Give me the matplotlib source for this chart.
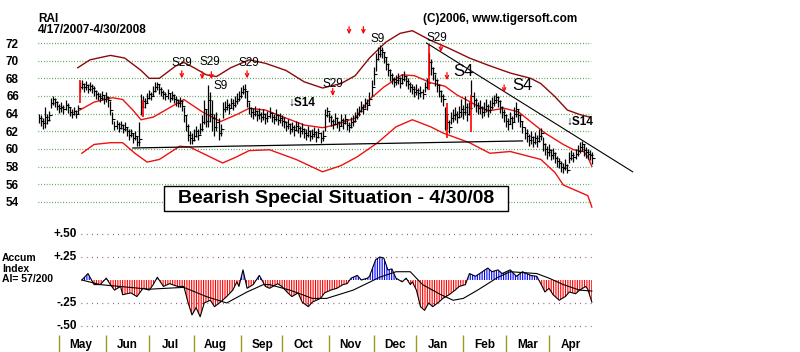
import matplotlib
matplotlib.use("Agg")
import matplotlib.pyplot as plt
from matplotlib.patches import Rectangle
import numpy as np
import pandas as pd

plt.rcParams["font.family"] = ["Liberation Sans", "DejaVu Sans"]
plt.rcParams["hatch.linewidth"] = 0.8

# trading days 4/17/2007 - 4/30/2008
dates = pd.bdate_range("2007-04-17", "2008-04-30")

close = [63.5, 63.2, 62.9, 63.6, 63.3, 63.8, 65.2, 65.6, 65.3, 64.9,
         64.6, 64.8, 64.5, 65.0, 64.7, 64.2, 64.0, 64.3, 63.9, 64.6,
         67.0, 67.3, 67.0, 67.2, 66.8, 67.1, 66.9, 66.6, 66.2, 66.0,
         65.8, 66.1, 65.6, 65.9, 65.5, 64.4, 63.4, 62.6, 62.8, 62.4,
         62.7, 62.3, 62.5, 62.0, 61.6, 61.8, 61.2, 61.5, 60.8, 61.1,
         64.8, 65.4, 65.2, 65.8, 66.2, 66.0, 66.6, 67.0, 67.3, 66.8,
         66.5, 66.2, 66.0, 66.3, 65.8, 66.1, 65.7, 65.5, 65.2, 65.4,
         64.9, 63.8, 62.6, 61.6, 61.2, 61.0, 61.5, 62.0, 61.6, 62.3,
         63.0, 64.5, 63.2, 65.5, 64.0, 63.5, 62.5, 63.0, 61.8, 62.2,
         64.5, 64.8, 65.0, 64.6, 65.2, 65.0, 65.4, 65.7, 66.0, 66.4,
         66.8, 66.6, 65.4, 64.6, 64.2, 64.0, 64.3, 63.8, 64.0, 63.6,
         63.9, 63.5, 63.7, 64.1, 63.6, 63.4, 63.8, 63.3, 63.5, 63.2,
         63.0, 62.6, 62.8, 62.3, 62.5, 62.1, 62.6, 62.4, 62.0, 62.3,
         61.8, 61.6, 62.0, 61.5, 61.7, 61.9, 61.4, 61.8, 61.2, 61.5,
         63.8, 64.3, 63.6, 63.2, 62.8, 63.5, 63.0, 62.6, 63.3, 62.9,
         63.4, 62.7, 62.5, 63.0, 63.2, 63.6, 64.0, 64.3, 64.8, 64.5,
         65.2, 65.0, 65.6, 67.0, 68.5, 70.2, 70.8, 71.2, 71.0, 70.4,
         69.6, 69.0, 68.4, 67.9, 67.6, 67.8, 68.0, 67.5, 67.9, 68.3,
         67.7, 67.4, 67.0, 66.8, 66.5, 66.7, 66.3, 66.5, 66.2, 67.0,
         67.5, 69.8, 69.2, 68.6, 67.8, 67.2, 66.6, 66.0, 65.6, 64.0,
         63.0, 62.5, 63.5, 63.8, 64.0, 63.6, 64.2, 64.5, 64.2, 64.8,
         64.0, 64.6, 66.0, 65.5, 65.0, 64.6, 64.8, 64.2, 64.5, 64.9,
         64.4, 64.8, 65.2, 65.5, 65.9, 65.4, 64.8, 64.2, 63.8, 63.2,
         62.8, 63.5, 63.0, 64.0, 64.5, 63.8, 63.2, 62.5, 61.8, 61.5,
         61.0, 61.3, 60.8, 61.2, 60.9, 61.5, 61.8, 60.5, 60.0, 59.6,
         59.9, 59.3, 59.5, 59.0, 58.6, 58.4, 58.0, 57.8, 58.2, 57.6,
         59.0, 59.3, 59.1, 59.4, 59.8, 60.2, 60.5, 59.9, 59.6, 59.4, 59.3, 59.0]

high = [64.0, 63.8, 63.5, 64.8, 63.9, 64.3, 65.8, 66.0, 65.8, 65.4,
        65.1, 65.3, 65.0, 65.5, 65.2, 64.8, 64.5, 64.8, 64.4, 65.0,
        67.6, 67.8, 67.5, 67.7, 67.3, 67.6, 67.3, 67.1, 66.7, 66.5,
        66.3, 66.6, 66.1, 66.4, 66.0, 65.4, 64.2, 63.2, 63.3, 63.0,
        63.2, 62.8, 63.0, 62.5, 62.2, 62.3, 61.8, 62.0, 61.5, 63.0,
        66.2, 66.0, 65.8, 66.3, 66.7, 66.5, 67.1, 67.6, 67.6, 67.3,
        67.0, 66.7, 66.5, 66.8, 66.3, 66.6, 66.2, 66.0, 65.7, 65.9,
        65.5, 64.8, 63.8, 62.8, 62.0, 61.8, 62.2, 62.6, 62.2, 62.9,
        63.8, 65.5, 64.5, 67.2, 66.5, 65.5, 64.0, 64.2, 63.5, 62.8,
        65.3, 65.4, 65.6, 65.2, 65.8, 65.6, 66.0, 66.3, 66.6, 67.0,
        67.2, 67.3, 66.6, 65.3, 64.8, 64.6, 64.9, 64.4, 64.6, 64.2,
        64.5, 64.1, 64.3, 64.7, 64.2, 64.0, 64.5, 63.9, 64.1, 63.8,
        63.6, 63.2, 63.4, 62.9, 63.1, 62.7, 63.2, 63.0, 62.6, 62.9,
        62.4, 62.2, 62.6, 62.1, 62.3, 62.5, 62.0, 62.4, 61.9, 62.1,
        64.5, 64.8, 64.2, 63.8, 63.4, 64.1, 63.6, 63.2, 63.9, 63.5,
        64.0, 63.3, 63.1, 63.6, 63.8, 64.2, 64.6, 64.9, 65.4, 65.1,
        65.8, 65.6, 66.4, 67.8, 69.3, 70.9, 71.5, 71.8, 71.6, 71.0,
        70.4, 69.7, 69.1, 68.6, 68.2, 68.4, 68.6, 68.1, 68.5, 68.8,
        68.3, 68.0, 67.6, 67.4, 67.1, 67.3, 66.9, 67.1, 66.8, 67.6,
        68.0, 70.9, 70.2, 69.3, 68.5, 67.9, 67.3, 66.7, 66.2, 64.7,
        63.8, 63.3, 64.2, 64.5, 64.8, 64.3, 64.9, 65.6, 65.0, 66.0,
        65.2, 65.3, 67.8, 66.4, 65.8, 65.3, 65.5, 64.9, 65.3, 65.6,
        65.1, 65.5, 65.9, 66.1, 66.3, 66.0, 65.5, 64.9, 64.5, 63.9,
        63.5, 64.2, 63.7, 64.8, 65.3, 64.5, 63.9, 63.2, 62.5, 62.2,
        61.7, 62.0, 61.5, 61.9, 61.6, 62.2, 62.4, 61.3, 60.7, 60.3,
        60.5, 60.0, 60.1, 59.6, 59.2, 59.0, 58.6, 58.4, 58.8, 58.3,
        59.6, 59.9, 59.7, 60.0, 60.4, 60.8, 60.9, 60.6, 60.2, 60.0, 59.9, 59.6]

low = [62.9, 62.6, 62.3, 62.4, 62.8, 63.2, 64.6, 65.0, 64.8, 64.4,
       64.1, 64.2, 64.0, 64.4, 64.1, 63.7, 63.5, 63.8, 63.5, 64.0,
       66.4, 66.8, 66.5, 66.7, 66.3, 66.6, 66.3, 66.0, 65.7, 65.5,
       65.3, 65.5, 65.1, 65.3, 64.8, 63.8, 62.8, 62.1, 62.3, 61.9,
       62.2, 61.8, 62.0, 61.5, 61.0, 61.3, 60.7, 61.0, 60.3, 60.3,
       63.8, 64.8, 64.6, 65.2, 65.6, 65.5, 66.0, 66.4, 66.7, 66.2,
       66.0, 65.7, 65.5, 65.7, 65.3, 65.5, 65.2, 64.9, 64.7, 64.8,
       64.3, 63.0, 62.0, 60.9, 60.6, 60.5, 60.9, 61.4, 61.0, 61.7,
       62.0, 62.8, 62.5, 62.5, 63.0, 62.0, 61.5, 62.0, 61.0, 61.5,
       63.5, 64.2, 64.4, 64.0, 64.6, 64.4, 64.8, 65.1, 65.4, 65.8,
       66.2, 65.8, 64.8, 64.0, 63.6, 63.4, 63.7, 63.2, 63.4, 63.0,
       63.3, 62.8, 63.1, 63.5, 63.0, 62.8, 63.2, 62.7, 62.9, 62.6,
       62.4, 62.0, 62.2, 61.7, 61.9, 61.5, 62.0, 61.8, 61.4, 61.7,
       61.2, 61.0, 61.4, 60.9, 61.1, 61.3, 60.8, 61.2, 60.7, 60.9,
       62.0, 63.6, 63.0, 62.6, 62.2, 62.8, 62.4, 62.0, 62.6, 62.3,
       62.8, 62.1, 61.9, 62.4, 62.6, 63.0, 63.4, 63.7, 64.2, 63.9,
       64.6, 64.4, 65.0, 66.0, 67.2, 68.8, 70.1, 70.4, 70.3, 69.7,
       68.9, 68.3, 67.7, 67.3, 67.0, 67.2, 67.4, 66.9, 67.3, 67.7,
       67.1, 66.8, 66.4, 66.2, 65.9, 66.1, 65.7, 65.9, 65.6, 66.4,
       66.8, 68.4, 68.4, 67.8, 67.1, 66.5, 65.9, 65.3, 64.9, 62.1,
       62.2, 61.8, 62.8, 63.1, 63.3, 62.9, 63.5, 63.6, 63.4, 63.8,
       63.2, 63.8, 64.5, 64.7, 64.2, 63.9, 64.0, 63.5, 63.7, 64.2,
       63.6, 64.1, 64.5, 64.9, 65.2, 64.7, 64.1, 63.5, 63.1, 62.5,
       62.1, 62.8, 62.3, 63.0, 63.6, 63.1, 62.5, 61.8, 61.1, 60.8,
       60.3, 60.6, 60.2, 60.5, 60.2, 60.8, 61.0, 59.8, 59.3, 58.9,
       59.2, 58.7, 58.8, 58.4, 58.0, 57.8, 57.4, 57.3, 57.6, 57.3,
       58.4, 58.7, 58.5, 58.8, 59.2, 59.5, 59.8, 59.2, 59.0, 58.8, 58.7, 58.3]

# bands (day index, price)
upper_i = [19, 25, 35, 42, 50, 54, 59, 67, 71, 76, 82, 87, 94, 99, 103, 111, 121, 130, 139,
           148, 155, 162, 170, 177, 183, 192, 201, 211, 220, 231, 241, 246, 253, 259, 265, 270]
upper_v = [69.2, 70.1, 70.6, 70.3, 68.9, 68.0, 68.0, 69.4, 69.8, 69.2, 68.4, 68.2, 69.2, 69.7,
           70.1, 69.7, 68.9, 67.6, 66.9, 67.4, 68.3, 70.3, 72.1, 73.1, 73.4, 72.3, 71.4, 70.3,
           69.5, 68.6, 68.0, 67.4, 65.9, 64.4, 63.9, 63.6]
mid_i = [20, 27, 36, 41, 46, 50, 56, 62, 71, 80, 89, 97, 103, 111, 121, 130, 139, 145, 155,
         162, 169, 178, 184, 192, 199, 205, 214, 220, 228, 235, 242, 248, 257, 262, 267, 269, 271]
mid_v = [64.4, 65.3, 65.8, 65.6, 64.4, 63.3, 63.6, 64.4, 65.6, 64.2, 63.1, 63.9, 64.6, 64.4,
         63.5, 62.7, 62.4, 62.7, 63.5, 65.6, 67.0, 68.4, 68.3, 67.5, 67.1, 66.1, 65.0, 64.3,
         64.6, 64.2, 62.9, 61.8, 60.5, 59.9, 59.7, 59.1, 58.0]
lower_i = [21, 27, 35, 41, 47, 53, 59, 69, 74, 82, 90, 96, 103, 113, 126, 139, 148, 156, 166,
           175, 183, 192, 198, 211, 221, 231, 246, 253, 257, 262, 269, 271]
lower_v = [59.5, 60.5, 60.7, 60.7, 59.5, 58.5, 58.8, 60.3, 60.2, 59.3, 58.4, 59.0, 59.8, 59.9,
           58.8, 57.4, 58.1, 59.1, 60.7, 62.5, 63.3, 62.5, 61.8, 60.7, 59.5, 59.7, 58.8, 57.3,
           55.9, 55.4, 54.7, 53.4]

# signal day bars in red
sig_i = [20, 51, 191, 200, 212]
sig_lo = [65.2, 63.6, 66.7, 61.2, 61.9]
sig_hi = [67.8, 65.5, 71.8, 65.2, 66.1]

# trend lines
support_i = [46, 237]
support_v = [60.1, 60.9]
resist_i = [190, 291]
resist_v = [72.0, 57.4]

# signal labels: text, day, price, size, weight
labels = [("S29", 70, 69.7, 8.5, "normal"), ("S29", 84, 69.8, 8.5, "normal"),
          ("S9", 88.8, 67.1, 8.5, "normal"), ("S29", 103, 69.7, 8.5, "normal"),
          ("\u2193S14", 129, 65.2, 8.5, "bold"), ("S29", 144, 67.4, 8.5, "normal"),
          ("S9", 166, 72.45, 8.5, "normal"), ("S29", 195, 72.6, 8.5, "normal"),
          ("S4", 208, 68.8, 12, "normal"), ("S4", 237, 67.2, 12, "normal"),
          ("\u2193S14", 265, 63.05, 8.5, "bold")]
# red down arrows (day, price of arrow tip)
arrow_i = [70, 80, 84.5, 102, 144, 152, 159, 197, 200, 228]
arrow_v = [68.0, 67.9, 67.9, 68.0, 66.0, 73.0, 73.0, 71.0, 67.8, 66.4]

# accumulation index
ai_i = [21, 24, 25, 27, 30, 33, 35, 37, 40, 41, 45, 48, 51, 54, 56, 58, 61, 64, 68, 71, 73, 75,
        77, 79, 81, 84, 86, 89, 92, 95, 97, 98, 100, 102, 105, 108, 111, 113, 117, 119, 122,
        124, 127, 129, 132, 134, 138, 140, 143, 146, 149, 151, 153, 156, 158, 161, 162, 165,
        167, 169, 171, 173, 175, 178, 180, 182, 183, 185, 187, 189, 191, 193, 196, 198, 201,
        204, 206, 209, 211, 214, 216, 220, 222, 225, 227, 231, 234, 237, 241, 244, 246, 248,
        250, 252, 255, 258, 260, 263, 265, 268, 269, 271]
ai_v = [0.00, 0.07, 0.03, -0.05, -0.05, 0.02, -0.05, -0.11, -0.07, -0.16, -0.14, -0.18, -0.09,
        -0.11, -0.05, 0.03, -0.07, -0.04, -0.07, -0.07, -0.24, -0.38, -0.30, -0.40, -0.25,
        -0.22, -0.29, -0.24, -0.18, -0.11, -0.02, -0.07, 0.11, -0.09, -0.05, 0.05, -0.07,
        -0.09, -0.04, -0.07, -0.14, -0.18, -0.14, -0.24, -0.29, -0.24, -0.20, -0.14, -0.11,
        -0.09, -0.05, -0.04, 0.02, 0.05, 0.00, 0.02, 0.04, 0.22, 0.25, 0.24, 0.11, 0.12, 0.02,
        -0.02, 0.02, -0.05, -0.02, -0.11, -0.29, -0.33, -0.25, -0.29, -0.24, -0.20, -0.16,
        -0.11, -0.07, -0.05, 0.07, 0.04, 0.07, 0.13, 0.09, 0.11, 0.07, 0.11, 0.04, 0.09, 0.05,
        0.04, -0.04, -0.13, -0.09, -0.16, -0.22, -0.18, -0.13, -0.15, -0.11, -0.07, -0.10, -0.24]
ma_i = [21, 30, 54, 71, 82, 92, 102, 110, 113, 123, 134, 141, 154, 167, 175, 182, 188, 197,
        203, 208, 215, 225, 231, 244, 250, 257, 265, 271]
ma_v = [0.00, -0.05, -0.10, -0.08, -0.18, -0.25, -0.13, -0.05, -0.05, -0.11, -0.20, -0.20,
        -0.11, 0.03, 0.09, 0.09, -0.05, -0.16, -0.22, -0.20, -0.11, 0.03, 0.09, 0.07, 0.02,
        -0.05, -0.11, -0.12]

months = ["May", "Jun", "Jul", "Aug", "Sep", "Oct", "Nov", "Dec", "Jan", "Feb", "Mar", "Apr"]
price_ticks = [54, 56, 58, 60, 62, 64, 66, 68, 70, 72]
ai_ticks = [0.5, 0.25, -0.25, -0.5]
ai_tick_labels = ["+.50", "+.25", "-.25", "-.50"]

W, H = 800, 352
fig = plt.figure(figsize=(8, 3.52), dpi=100)
ax = fig.add_axes([30 / W, 1 - 215 / H, 610 / W, 194 / H])
ax2 = fig.add_axes([30 / W, 1 - 335 / H, 610 / W, 110 / H])

idx = np.arange(len(dates))
xl = (-4.41, 294.6)

# ---- price panel ----
ax.hlines(price_ticks, -0.5, 270.5, colors="#2e8b2e", linestyles=(0, (0.6, 1.6)), lw=0.9)
ax.plot(upper_i, upper_v, color="#8b0a0a", lw=1)
ax.plot(mid_i, mid_v, color="#ee1111", lw=1)
ax.plot(lower_i, lower_v, color="#ee1111", lw=1)
ax.vlines(idx, low, high, colors="black", lw=0.9)
ax.plot(idx, close, linestyle="none", marker=1, markersize=2.5, mew=0.8, color="black")
ax.vlines(sig_i, sig_lo, sig_hi, colors="red", lw=1.2)
ax.plot(support_i, support_v, color="black", lw=0.9)
ax.plot(resist_i, resist_v, color="black", lw=0.8, clip_on=False)

for t, i, v, s, w in labels:
    ax.text(i, v, t, ha="center", va="center", fontsize=s, fontweight=w, color="black")
for i, v in zip(arrow_i, arrow_v):
    ax.annotate("", xy=(i, v), xytext=(i, v + 0.85),
                arrowprops=dict(arrowstyle="->", color="red", lw=0.9, mutation_scale=6,
                                shrinkA=0, shrinkB=0))

ax.set_xlim(*xl)
ax.set_ylim(52.5, 74.5)
ax.set_xticks([])
ax.set_yticks(price_ticks)
ax.tick_params(axis="y", length=0, pad=8, labelsize=8.5)
for lbl in ax.get_yticklabels():
    lbl.set_fontweight("bold")
for s in ax.spines.values():
    s.set_visible(False)
ax.patch.set_alpha(0)

# ---- accumulation index panel ----
ai_arr = np.array(ai_v)
ax2.hlines(ai_ticks, 20.5, 271, colors="#7a2a55", linestyles=(0, (0.6, 3.6)), lw=0.9)
ax2.fill_between(ai_i, ai_arr, 0, where=ai_arr <= 0, interpolate=True,
                 facecolor="none", edgecolor="red", hatch="|||||||", linewidth=0)
ax2.fill_between(ai_i, ai_arr, 0, where=ai_arr >= 0, interpolate=True,
                 facecolor="none", edgecolor="blue", hatch="|||||||", linewidth=0)
ax2.plot(ai_i, ai_v, color="black", lw=0.8)
ax2.plot(ma_i, ma_v, color="black", lw=0.8)

for v, t in zip(ai_ticks, ai_tick_labels):
    ax2.text(18.6, v, t, ha="right", va="center", fontsize=8.5, fontweight="bold")

month_start = np.where(dates.month[1:] != dates.month[:-1])[0] + 1
ax2.vlines(month_start, -0.783, -0.598, colors="#9a9a20", lw=1, clip_on=False)
for m, name in zip(month_start, months):
    ax2.text(m + 10.5, -0.707, name, ha="center", va="center", fontsize=8.5, fontweight="bold")

ax2.set_xlim(*xl)
ax2.set_ylim(-0.598, 0.598)
ax2.axis("off")

# ---- texts ----
fig.text(38 / W, 1 - 19 / H, "RAI", va="center", fontsize=8.5, fontweight="bold")
fig.text(38 / W, 1 - 30 / H, "4/17/2007-4/30/2008", va="center", fontsize=8.5, fontweight="bold")
fig.text(500 / W, 1 - 19 / H, "(C)2006, www.tigersoft.com", ha="center", va="center",
         fontsize=8.5, fontweight="bold")
fig.text(2 / W, 1 - 258 / H, "Accum", va="center", fontsize=7.5, fontweight="bold")
fig.text(2 / W, 1 - 268.5 / H, "Index", va="center", fontsize=7.5, fontweight="bold")
fig.text(2 / W, 1 - 279 / H, "AI= 57/200", va="center", fontsize=7.5, fontweight="bold")

fig.add_artist(Rectangle((164 / W, 1 - 211 / H), 344 / W, 25 / H, transform=fig.transFigure,
                         facecolor="white", edgecolor="black", lw=1))
fig.text(336 / W, 1 - 198.5 / H, "Bearish Special Situation - 4/30/08", ha="center",
         va="center", fontsize=14, fontweight="bold")

fig.savefig("out.png", dpi=100)
